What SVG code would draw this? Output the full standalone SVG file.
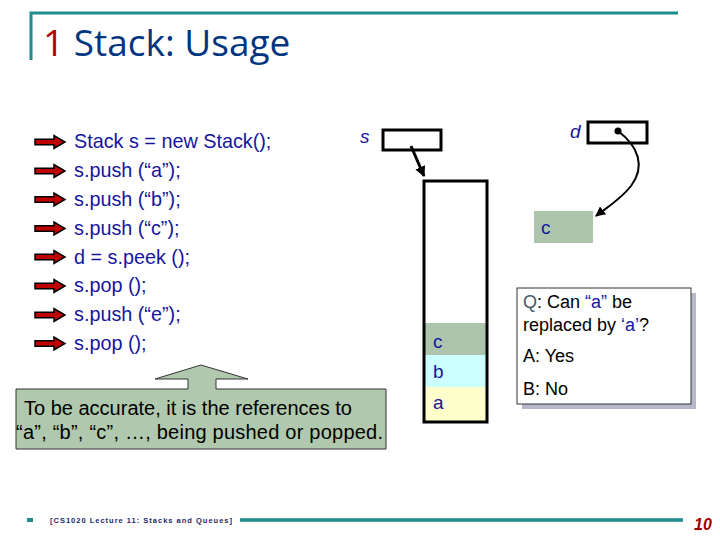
<svg xmlns="http://www.w3.org/2000/svg" width="720" height="540" viewBox="0 0 720 540">
<defs>
<style>
.code{font-family:"Liberation Sans",Arial,sans-serif;font-size:19.8px;fill:#1515a0}
.lbl{font-family:"Liberation Sans",Arial,sans-serif;font-size:19px;fill:#1515a0}
.it{font-family:"Liberation Sans",Arial,sans-serif;font-size:19px;font-style:italic;fill:#1515a0}
.txt{font-family:"Liberation Sans",Arial,sans-serif;font-size:18px;fill:#000}
.box{fill:#fff;stroke:#000;stroke-width:3}
.teal{stroke:#1e8c8c;stroke-width:3;fill:none}
.conn{fill:none;stroke:#000;stroke-width:3}
</style>
<path id="rarrow" d="M0,-2.8 L19,-2.8 L19,-6.5 L30,0 L19,6.5 L19,2.8 L0,2.8 Z" fill="#c00000" stroke="#000" stroke-width="1.5" stroke-linejoin="miter"/>
<marker id="ah" viewBox="0 0 10 10" refX="9" refY="5" markerWidth="3.5" markerHeight="3.5" orient="auto" markerUnits="strokeWidth">
<path d="M0,0 L10,5 L0,10 Z" fill="#000"/>
</marker>
<marker id="ah2" viewBox="0 0 10 10" refX="9" refY="5" markerWidth="5" markerHeight="5" orient="auto" markerUnits="strokeWidth">
<path d="M0,0 L10,5 L0,10 Z" fill="#000"/>
</marker>
</defs>
<rect width="720" height="540" fill="#fff"/>

<g id="title">
<path class="teal" d="M31,60 L31,13 L678,13"/>
<text x="43" y="56" font-family="'Open Sans','Noto Sans',sans-serif" font-size="37"><tspan fill="#b00000">1</tspan><tspan fill="#003580"> Stack: Usage</tspan></text>
</g>

<g id="code">
<use href="#rarrow" x="35" y="142"/>
<use href="#rarrow" x="35" y="171"/>
<use href="#rarrow" x="35" y="199.5"/>
<use href="#rarrow" x="35" y="228.5"/>
<use href="#rarrow" x="35" y="257"/>
<use href="#rarrow" x="35" y="286"/>
<use href="#rarrow" x="35" y="315"/>
<use href="#rarrow" x="35" y="343.5"/>
<text class="code" x="74" y="148">Stack s = new Stack();</text>
<text class="code" x="74" y="177">s.push (“a”);</text>
<text class="code" x="74" y="206">s.push (“b”);</text>
<text class="code" x="74" y="234.5">s.push (“c”);</text>
<text class="code" x="74" y="263.5">d = s.peek ();</text>
<text class="code" x="74" y="292">s.pop ();</text>
<text class="code" x="74" y="321">s.push (“e”);</text>
<text class="code" x="74" y="350">s.pop ();</text>
</g>

<g id="s-var">
<text class="it" x="360" y="143">s</text>
<rect class="box" x="383" y="130" width="58" height="20"/>
</g>

<g id="stack">
<rect x="425" y="323" width="62" height="32" fill="#adc5ad"/>
<rect x="425" y="355" width="62" height="32" fill="#ccffff"/>
<rect x="425" y="387" width="62" height="34" fill="#ffffcc"/>
<rect x="424" y="181" width="63" height="241" fill="none" stroke="#000" stroke-width="3"/>
<text class="lbl" x="433" y="348">c</text>
<text class="lbl" x="433" y="378">b</text>
<text class="lbl" x="433" y="409">a</text>
</g>

<g id="d-var">
<text class="it" x="570" y="138">d</text>
<rect class="box" x="588" y="122" width="59" height="21"/>
<circle cx="618" cy="131" r="3.5" fill="#000"/>
</g>

<g id="c-node">
<rect x="534" y="211" width="59" height="32" fill="#adc5ad"/>
<text class="lbl" x="541" y="234">c</text>
</g>

<g id="connectors">
<path class="conn" d="M411,146 L424,176" marker-end="url(#ah)"/>
<path d="M618,131 C638,146 646,166 631,186 C620,200 606,208 596,216" fill="none" stroke="#000" stroke-width="2" marker-end="url(#ah2)"/>
</g>

<g id="question">
<rect x="522" y="293" width="174" height="116" fill="#b8b8cc"/>
<rect x="517" y="288" width="174" height="116" fill="#fff" stroke="#333" stroke-width="1"/>
<text class="txt" x="523" y="308"><tspan fill="#4a5a6a">Q</tspan>: Can <tspan fill="#1515a0">“a”</tspan> be</text>
<text class="txt" x="523" y="331">replaced by <tspan fill="#1515a0">‘a’</tspan>?</text>
<text class="txt" x="523" y="362">A: Yes</text>
<text class="txt" x="523" y="395">B: No</text>
</g>

<g id="callout">
<path d="M16,389 L188,389 L188,379 L155,379 L201,365 L248,379 L216,379 L216,389 L386,389 L386,449 L16,449 Z" fill="#b0c8ad" stroke="#333" stroke-width="1"/>
<text x="24" y="415" font-family="'Liberation Sans',Arial,sans-serif" font-size="20" fill="#000">To be accurate, it is the references to</text>
<text x="16" y="439" font-family="'Liberation Sans',Arial,sans-serif" font-size="20" fill="#000" textLength="367">“a”, “b”, “c”, …, being pushed or popped.</text>
</g>

<g id="footer">
<rect x="27" y="518" width="6" height="4" fill="#1e8c8c"/>
<text x="50" y="523" font-family="'Liberation Sans',Arial,sans-serif" font-size="7.5" font-weight="bold" fill="#1a2a6a" textLength="182">[CS1020 Lecture 11: Stacks and Queues]</text>
<line x1="240" y1="520" x2="683" y2="520" stroke="#1e8c8c" stroke-width="3.5"/>
<text x="694" y="530" font-family="'Liberation Sans',Arial,sans-serif" font-size="16" font-style="italic" font-weight="bold" fill="#a00000">10</text>
</g>
</svg>
